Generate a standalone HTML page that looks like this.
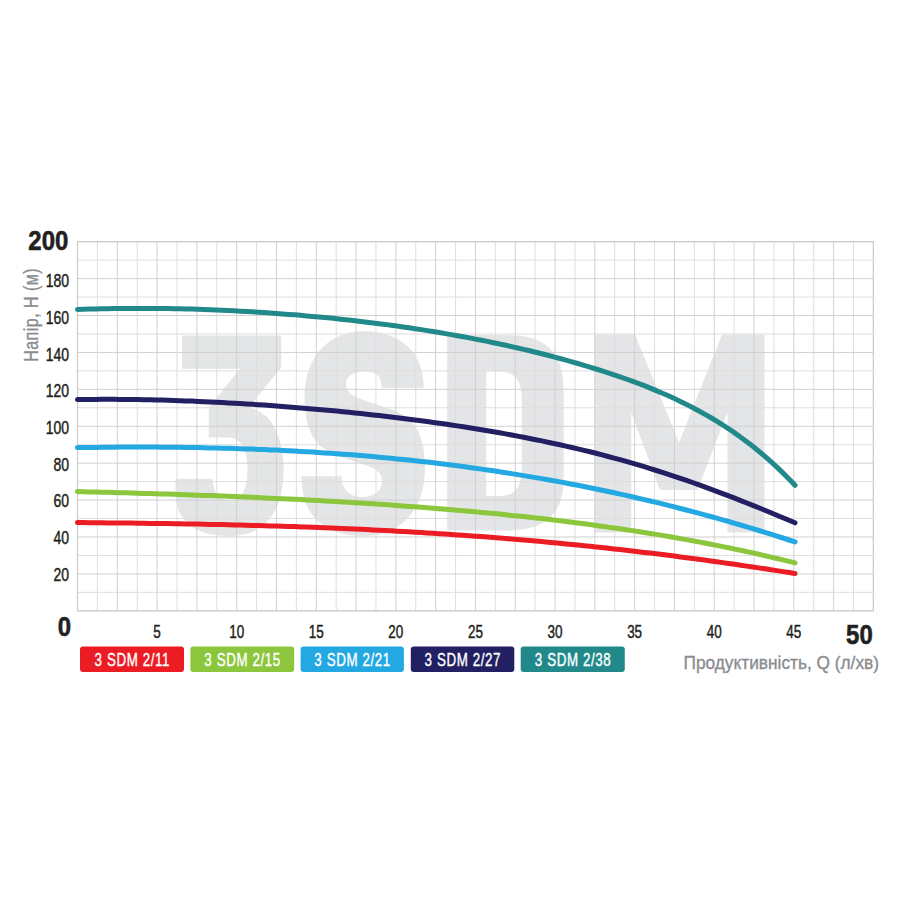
<!DOCTYPE html>
<html><head><meta charset="utf-8"><style>
html,body{margin:0;padding:0;background:#fff;width:900px;height:900px;overflow:hidden}
svg{display:block}
</style></head><body>
<svg width="900" height="900" viewBox="0 0 900 900">
<rect width="900" height="900" fill="#ffffff"/>
<g fill="#e4e5e7">
<path d="M182,335.5 L281.25,335.5 L281.25,367.5 L248.75,407.5 Q282.5,415 283.75,470 Q282.5,535 228.75,536.25 Q177.5,535 175.5,495 L175.5,478.75 L212.5,478.75 Q213.75,500 229.5,500.5 Q247.5,500 247.5,470 Q247.5,437.5 227.5,437.5 L208.75,437.5 L208.75,407.5 L240,368.75 L182,368.75 Z"/>
<path d="M423.7,387.7 L381.8,387.7 C381.8,375 375,371.6 364,371.6 C352,371.6 346,377 346,384 C346,393 354,397 366,401 L390,409 C415,417 425,435 425,468 C425,510 400,536 364,536 C323,536 301.5,515 301.5,476.3 L341.6,476.3 C341.6,490 350,497 362,497 C375,497 382,490 382,481 C382,472 375,468 362,464 L338,456 C315,448 304.5,430 304.5,398 C304.5,355 330,331.3 364,331.3 C400,331.3 423.7,352 423.7,387.7 Z"/>
<path fill-rule="evenodd" d="M447.2,335 L506,335 C546,335 563.6,352 563.6,390 L563.6,478 C563.6,514 546,530.5 506,530.5 L447.2,530.5 Z M486.3,371.5 L499,371.5 C515,371.5 521.8,381 521.8,400 L521.8,468 C521.8,487 515,496.1 499,496.1 L486.3,496.1 Z"/>
<path d="M594.5,334.5 L635,334.5 L679,442.5 L722,334.5 L764.5,334.5 L764.5,532.5 L727.5,532.5 L727.5,412.5 L697.5,490 L660,490 L631.25,412.5 L631.25,532.5 L594.5,532.5 Z"/>
</g>
<path d="M97.40 241.70V610.80M137.19 241.70V610.80M176.99 241.70V610.80M216.78 241.70V610.80M256.58 241.70V610.80M296.37 241.70V610.80M336.17 241.70V610.80M375.96 241.70V610.80M415.76 241.70V610.80M455.55 241.70V610.80M495.35 241.70V610.80M535.14 241.70V610.80M574.94 241.70V610.80M614.73 241.70V610.80M654.53 241.70V610.80M694.32 241.70V610.80M734.12 241.70V610.80M773.91 241.70V610.80M813.71 241.70V610.80M853.50 241.70V610.80M77.50 260.15H873.40M77.50 297.06H873.40M77.50 333.97H873.40M77.50 370.88H873.40M77.50 407.79H873.40M77.50 444.70H873.40M77.50 481.61H873.40M77.50 518.52H873.40M77.50 555.43H873.40M77.50 592.35H873.40" stroke="#dedede" stroke-width="1" fill="none"/>
<path d="M77.50 241.70V610.80M117.30 241.70V610.80M157.09 241.70V610.80M196.88 241.70V610.80M236.68 241.70V610.80M276.48 241.70V610.80M316.27 241.70V610.80M356.06 241.70V610.80M395.86 241.70V610.80M435.66 241.70V610.80M475.45 241.70V610.80M515.25 241.70V610.80M555.04 241.70V610.80M594.84 241.70V610.80M634.63 241.70V610.80M674.43 241.70V610.80M714.22 241.70V610.80M754.01 241.70V610.80M793.81 241.70V610.80M833.61 241.70V610.80M873.40 241.70V610.80M77.50 241.70H873.40M77.50 278.61H873.40M77.50 315.52H873.40M77.50 352.43H873.40M77.50 389.34H873.40M77.50 426.25H873.40M77.50 463.16H873.40M77.50 500.07H873.40M77.50 536.98H873.40M77.50 573.89H873.40M77.50 610.80H873.40" stroke="#d0d0d0" stroke-width="1" fill="none"/>
<rect x="77.5" y="241.7" width="795.90" height="369.10" stroke="#cdcdcd" stroke-width="1.2" fill="none"/>
<polyline points="77.5,522.6 83.5,522.6 89.6,522.7 95.6,522.8 101.6,522.8 107.6,522.9 113.7,522.9 119.7,523.0 125.7,523.1 131.8,523.1 137.8,523.2 143.8,523.3 149.9,523.4 155.9,523.4 161.9,523.5 167.9,523.6 174.0,523.7 180.0,523.8 186.0,523.9 192.1,524.0 198.1,524.1 204.1,524.3 210.1,524.4 216.2,524.5 222.2,524.6 228.2,524.8 234.3,524.9 240.3,525.1 246.3,525.2 252.4,525.4 258.4,525.5 264.4,525.7 270.4,525.9 276.5,526.1 282.5,526.2 288.5,526.4 294.6,526.6 300.6,526.9 306.6,527.1 312.6,527.3 318.7,527.5 324.7,527.8 330.7,528.0 336.8,528.2 342.8,528.5 348.8,528.8 354.9,529.0 360.9,529.3 366.9,529.6 372.9,529.9 379.0,530.2 385.0,530.5 391.0,530.8 397.1,531.2 403.1,531.5 409.1,531.8 415.1,532.2 421.2,532.6 427.2,532.9 433.2,533.3 439.3,533.7 445.3,534.1 451.3,534.5 457.4,534.9 463.4,535.3 469.4,535.7 475.4,536.2 481.5,536.6 487.5,537.1 493.5,537.6 499.6,538.0 505.6,538.5 511.6,539.0 517.6,539.5 523.7,540.0 529.7,540.6 535.7,541.1 541.8,541.6 547.8,542.2 553.8,542.8 559.9,543.3 565.9,543.9 571.9,544.5 577.9,545.1 584.0,545.7 590.0,546.3 596.0,547.0 602.1,547.6 608.1,548.3 614.1,548.9 620.1,549.6 626.2,550.3 632.2,551.0 638.2,551.7 644.3,552.4 650.3,553.1 656.3,553.8 662.4,554.6 668.4,555.3 674.4,556.1 680.4,556.9 686.5,557.7 692.5,558.4 698.5,559.3 704.6,560.1 710.6,560.9 716.6,561.7 722.6,562.6 728.7,563.4 734.7,564.3 740.7,565.2 746.8,566.1 752.8,567.0 758.8,567.9 764.9,568.8 770.9,569.7 776.9,570.6 782.9,571.6 789.0,572.5 795.0,573.5" fill="none" stroke="#ec1c24" stroke-width="5" stroke-linecap="round" stroke-linejoin="round"/>
<polyline points="77.5,491.6 83.5,491.7 89.6,491.9 95.6,492.0 101.6,492.2 107.6,492.3 113.7,492.5 119.7,492.7 125.7,492.8 131.8,493.0 137.8,493.2 143.8,493.4 149.9,493.5 155.9,493.7 161.9,493.9 167.9,494.1 174.0,494.3 180.0,494.5 186.0,494.7 192.1,494.9 198.1,495.2 204.1,495.4 210.1,495.6 216.2,495.8 222.2,496.1 228.2,496.3 234.3,496.6 240.3,496.8 246.3,497.1 252.4,497.3 258.4,497.6 264.4,497.9 270.4,498.2 276.5,498.4 282.5,498.7 288.5,499.0 294.6,499.3 300.6,499.6 306.6,499.9 312.6,500.3 318.7,500.6 324.7,500.9 330.7,501.3 336.8,501.6 342.8,502.0 348.8,502.3 354.9,502.7 360.9,503.1 366.9,503.4 372.9,503.8 379.0,504.2 385.0,504.6 391.0,505.1 397.1,505.5 403.1,505.9 409.1,506.4 415.1,506.8 421.2,507.3 427.2,507.7 433.2,508.2 439.3,508.7 445.3,509.2 451.3,509.7 457.4,510.2 463.4,510.7 469.4,511.3 475.4,511.8 481.5,512.4 487.5,513.0 493.5,513.5 499.6,514.1 505.6,514.7 511.6,515.4 517.6,516.0 523.7,516.6 529.7,517.3 535.7,517.9 541.8,518.6 547.8,519.3 553.8,520.0 559.9,520.8 565.9,521.5 571.9,522.2 577.9,523.0 584.0,523.8 590.0,524.6 596.0,525.4 602.1,526.2 608.1,527.1 614.1,527.9 620.1,528.8 626.2,529.7 632.2,530.6 638.2,531.5 644.3,532.5 650.3,533.5 656.3,534.4 662.4,535.4 668.4,536.5 674.4,537.5 680.4,538.6 686.5,539.6 692.5,540.7 698.5,541.9 704.6,543.0 710.6,544.2 716.6,545.4 722.6,546.6 728.7,547.8 734.7,549.1 740.7,550.3 746.8,551.6 752.8,552.9 758.8,554.3 764.9,555.7 770.9,557.1 776.9,558.5 782.9,559.9 789.0,561.4 795.0,562.9" fill="none" stroke="#8bc63c" stroke-width="5" stroke-linecap="round" stroke-linejoin="round"/>
<polyline points="77.5,447.6 83.5,447.5 89.6,447.4 95.6,447.4 101.6,447.3 107.6,447.2 113.7,447.2 119.7,447.1 125.7,447.1 131.8,447.1 137.8,447.1 143.8,447.1 149.9,447.1 155.9,447.1 161.9,447.2 167.9,447.2 174.0,447.3 180.0,447.3 186.0,447.4 192.1,447.5 198.1,447.6 204.1,447.7 210.1,447.9 216.2,448.0 222.2,448.2 228.2,448.3 234.3,448.5 240.3,448.7 246.3,448.9 252.4,449.1 258.4,449.4 264.4,449.6 270.4,449.9 276.5,450.1 282.5,450.4 288.5,450.7 294.6,451.1 300.6,451.4 306.6,451.7 312.6,452.1 318.7,452.5 324.7,452.9 330.7,453.3 336.8,453.7 342.8,454.2 348.8,454.6 354.9,455.1 360.9,455.6 366.9,456.1 372.9,456.6 379.0,457.2 385.0,457.7 391.0,458.3 397.1,458.9 403.1,459.5 409.1,460.1 415.1,460.8 421.2,461.4 427.2,462.1 433.2,462.8 439.3,463.5 445.3,464.3 451.3,465.0 457.4,465.8 463.4,466.6 469.4,467.4 475.4,468.2 481.5,469.1 487.5,470.0 493.5,470.8 499.6,471.7 505.6,472.7 511.6,473.6 517.6,474.6 523.7,475.6 529.7,476.6 535.7,477.6 541.8,478.6 547.8,479.7 553.8,480.8 559.9,481.9 565.9,483.0 571.9,484.2 577.9,485.3 584.0,486.5 590.0,487.7 596.0,489.0 602.1,490.2 608.1,491.5 614.1,492.8 620.1,494.1 626.2,495.4 632.2,496.8 638.2,498.2 644.3,499.6 650.3,501.0 656.3,502.4 662.4,503.9 668.4,505.4 674.4,506.9 680.4,508.5 686.5,510.0 692.5,511.6 698.5,513.2 704.6,514.8 710.6,516.5 716.6,518.1 722.6,519.8 728.7,521.5 734.7,523.3 740.7,525.0 746.8,526.8 752.8,528.6 758.8,530.5 764.9,532.3 770.9,534.2 776.9,536.1 782.9,538.0 789.0,540.0 795.0,541.9" fill="none" stroke="#24a8e2" stroke-width="5" stroke-linecap="round" stroke-linejoin="round"/>
<polyline points="77.5,399.6 83.5,399.5 89.6,399.4 95.6,399.4 101.6,399.3 107.6,399.3 113.7,399.3 119.7,399.4 125.7,399.4 131.8,399.5 137.8,399.6 143.8,399.7 149.9,399.8 155.9,399.9 161.9,400.1 167.9,400.3 174.0,400.5 180.0,400.7 186.0,400.9 192.1,401.1 198.1,401.4 204.1,401.7 210.1,401.9 216.2,402.2 222.2,402.6 228.2,402.9 234.3,403.2 240.3,403.6 246.3,403.9 252.4,404.3 258.4,404.7 264.4,405.1 270.4,405.6 276.5,406.0 282.5,406.5 288.5,406.9 294.6,407.4 300.6,407.9 306.6,408.4 312.6,408.9 318.7,409.5 324.7,410.0 330.7,410.6 336.8,411.1 342.8,411.7 348.8,412.3 354.9,413.0 360.9,413.6 366.9,414.2 372.9,414.9 379.0,415.6 385.0,416.3 391.0,417.0 397.1,417.7 403.1,418.5 409.1,419.2 415.1,420.0 421.2,420.8 427.2,421.6 433.2,422.4 439.3,423.3 445.3,424.1 451.3,425.0 457.4,425.9 463.4,426.8 469.4,427.8 475.4,428.8 481.5,429.7 487.5,430.7 493.5,431.8 499.6,432.8 505.6,433.9 511.6,435.0 517.6,436.1 523.7,437.3 529.7,438.5 535.7,439.7 541.8,440.9 547.8,442.2 553.8,443.5 559.9,444.8 565.9,446.1 571.9,447.5 577.9,448.9 584.0,450.4 590.0,451.8 596.0,453.3 602.1,454.9 608.1,456.5 614.1,458.1 620.1,459.7 626.2,461.4 632.2,463.2 638.2,464.9 644.3,466.7 650.3,468.6 656.3,470.5 662.4,472.4 668.4,474.3 674.4,476.3 680.4,478.4 686.5,480.4 692.5,482.5 698.5,484.7 704.6,486.9 710.6,489.1 716.6,491.3 722.6,493.6 728.7,495.9 734.7,498.2 740.7,500.6 746.8,503.0 752.8,505.4 758.8,507.8 764.9,510.3 770.9,512.8 776.9,515.2 782.9,517.7 789.0,520.3 795.0,522.8" fill="none" stroke="#221f62" stroke-width="5" stroke-linecap="round" stroke-linejoin="round"/>
<polyline points="77.5,309.5 83.5,309.3 89.6,309.1 95.6,308.9 101.6,308.8 107.6,308.7 113.7,308.6 119.7,308.5 125.7,308.4 131.8,308.4 137.8,308.4 143.8,308.4 149.9,308.4 155.9,308.4 161.9,308.5 167.9,308.6 174.0,308.7 180.0,308.8 186.0,309.0 192.1,309.1 198.1,309.3 204.1,309.5 210.1,309.8 216.2,310.0 222.2,310.3 228.2,310.5 234.3,310.8 240.3,311.2 246.3,311.5 252.4,311.8 258.4,312.2 264.4,312.6 270.4,313.0 276.5,313.4 282.5,313.9 288.5,314.4 294.6,314.8 300.6,315.3 306.6,315.9 312.6,316.4 318.7,317.0 324.7,317.5 330.7,318.1 336.8,318.8 342.8,319.4 348.8,320.1 354.9,320.7 360.9,321.4 366.9,322.2 372.9,322.9 379.0,323.7 385.0,324.4 391.0,325.3 397.1,326.1 403.1,326.9 409.1,327.8 415.1,328.7 421.2,329.6 427.2,330.6 433.2,331.5 439.3,332.5 445.3,333.6 451.3,334.6 457.4,335.7 463.4,336.8 469.4,337.9 475.4,339.1 481.5,340.2 487.5,341.4 493.5,342.7 499.6,344.0 505.6,345.3 511.6,346.6 517.6,348.0 523.7,349.4 529.7,350.8 535.7,352.3 541.8,353.8 547.8,355.3 553.8,356.9 559.9,358.5 565.9,360.1 571.9,361.8 577.9,363.5 584.0,365.3 590.0,367.1 596.0,369.0 602.1,370.9 608.1,372.8 614.1,374.8 620.1,376.9 626.2,379.0 632.2,381.2 638.2,383.4 644.3,385.7 650.3,388.1 656.3,390.6 662.4,393.2 668.4,395.8 674.4,398.6 680.4,401.5 686.5,404.4 692.5,407.5 698.5,410.7 704.6,414.1 710.6,417.5 716.6,421.1 722.6,424.9 728.7,428.8 734.7,432.9 740.7,437.2 746.8,441.7 752.8,446.3 758.8,451.2 764.9,456.3 770.9,461.6 776.9,467.1 782.9,472.9 789.0,479.0 795.0,485.3" fill="none" stroke="#22898b" stroke-width="5" stroke-linecap="round" stroke-linejoin="round"/>

<text font-family="'Liberation Sans', sans-serif" font-size="17.5" fill="#231f20" stroke="#231f20" stroke-width="0.45" text-anchor="end" transform="translate(69.1,580.80) scale(0.80,1)">20</text><text font-family="'Liberation Sans', sans-serif" font-size="17.5" fill="#231f20" stroke="#231f20" stroke-width="0.45" text-anchor="end" transform="translate(69.1,544.10) scale(0.80,1)">40</text><text font-family="'Liberation Sans', sans-serif" font-size="17.5" fill="#231f20" stroke="#231f20" stroke-width="0.45" text-anchor="end" transform="translate(69.1,507.40) scale(0.80,1)">60</text><text font-family="'Liberation Sans', sans-serif" font-size="17.5" fill="#231f20" stroke="#231f20" stroke-width="0.45" text-anchor="end" transform="translate(69.1,470.70) scale(0.80,1)">80</text><text font-family="'Liberation Sans', sans-serif" font-size="17.5" fill="#231f20" stroke="#231f20" stroke-width="0.45" text-anchor="end" transform="translate(69.1,434.00) scale(0.80,1)">100</text><text font-family="'Liberation Sans', sans-serif" font-size="17.5" fill="#231f20" stroke="#231f20" stroke-width="0.45" text-anchor="end" transform="translate(69.1,397.30) scale(0.80,1)">120</text><text font-family="'Liberation Sans', sans-serif" font-size="17.5" fill="#231f20" stroke="#231f20" stroke-width="0.45" text-anchor="end" transform="translate(69.1,360.60) scale(0.80,1)">140</text><text font-family="'Liberation Sans', sans-serif" font-size="17.5" fill="#231f20" stroke="#231f20" stroke-width="0.45" text-anchor="end" transform="translate(69.1,323.90) scale(0.80,1)">160</text><text font-family="'Liberation Sans', sans-serif" font-size="17.5" fill="#231f20" stroke="#231f20" stroke-width="0.45" text-anchor="end" transform="translate(69.1,287.20) scale(0.80,1)">180</text><text font-family="'Liberation Sans', sans-serif" font-weight="bold" font-size="27.2" fill="#231f20" stroke="#231f20" stroke-width="0.6" text-anchor="end" transform="translate(68.3,250.2) scale(0.88,1)">200</text><text font-family="'Liberation Sans', sans-serif" font-size="17.5" fill="#231f20" stroke="#231f20" stroke-width="0.45" text-anchor="middle" transform="translate(157.09,637.6) scale(0.77,1)">5</text><text font-family="'Liberation Sans', sans-serif" font-size="17.5" fill="#231f20" stroke="#231f20" stroke-width="0.45" text-anchor="middle" transform="translate(236.68,637.6) scale(0.77,1)">10</text><text font-family="'Liberation Sans', sans-serif" font-size="17.5" fill="#231f20" stroke="#231f20" stroke-width="0.45" text-anchor="middle" transform="translate(316.27,637.6) scale(0.77,1)">15</text><text font-family="'Liberation Sans', sans-serif" font-size="17.5" fill="#231f20" stroke="#231f20" stroke-width="0.45" text-anchor="middle" transform="translate(395.86,637.6) scale(0.77,1)">20</text><text font-family="'Liberation Sans', sans-serif" font-size="17.5" fill="#231f20" stroke="#231f20" stroke-width="0.45" text-anchor="middle" transform="translate(475.45,637.6) scale(0.77,1)">25</text><text font-family="'Liberation Sans', sans-serif" font-size="17.5" fill="#231f20" stroke="#231f20" stroke-width="0.45" text-anchor="middle" transform="translate(555.04,637.6) scale(0.77,1)">30</text><text font-family="'Liberation Sans', sans-serif" font-size="17.5" fill="#231f20" stroke="#231f20" stroke-width="0.45" text-anchor="middle" transform="translate(634.63,637.6) scale(0.77,1)">35</text><text font-family="'Liberation Sans', sans-serif" font-size="17.5" fill="#231f20" stroke="#231f20" stroke-width="0.45" text-anchor="middle" transform="translate(714.22,637.6) scale(0.77,1)">40</text><text font-family="'Liberation Sans', sans-serif" font-size="17.5" fill="#231f20" stroke="#231f20" stroke-width="0.45" text-anchor="middle" transform="translate(793.81,637.6) scale(0.77,1)">45</text><text font-family="'Liberation Sans', sans-serif" font-weight="bold" font-size="27.2" fill="#231f20" stroke="#231f20" stroke-width="0.6" text-anchor="middle" transform="translate(64.5,636.3) scale(0.88,1)">0</text><text font-family="'Liberation Sans', sans-serif" font-weight="bold" font-size="27.2" fill="#231f20" stroke="#231f20" stroke-width="0.6" text-anchor="middle" transform="translate(859.4,644.2) scale(0.88,1)">50</text><text font-family="'Liberation Sans', sans-serif" font-size="20" letter-spacing="0.6" fill="#8a8c90" text-anchor="middle" stroke="#8a8c90" stroke-width="0.35" transform="translate(38.3,314.9) rotate(-90) scale(0.8,1)">Напір, H (м)</text><text font-family="'Liberation Sans', sans-serif" font-size="18.8" fill="#8a8c90" stroke="#8a8c90" stroke-width="0.35" text-anchor="end" transform="translate(879,668.8) scale(0.92,1)">Продуктивність, Q (л/хв)</text><rect x="80" y="646.5" width="104.0" height="25.5" rx="3" fill="#ec1c24"/><text font-family="'Liberation Sans', sans-serif" font-size="18.8" letter-spacing="0.85" fill="#ffffff" stroke="#ffffff" stroke-width="0.4" text-anchor="middle" transform="translate(132.30,665.5) scale(0.71,1)">3 SDM 2/11</text><rect x="190.4" y="646.5" width="103.8" height="25.5" rx="3" fill="#8bc63c"/><text font-family="'Liberation Sans', sans-serif" font-size="18.8" letter-spacing="0.85" fill="#ffffff" stroke="#ffffff" stroke-width="0.4" text-anchor="middle" transform="translate(242.60,665.5) scale(0.71,1)">3 SDM 2/15</text><rect x="300.6" y="646.5" width="103.3" height="25.5" rx="3" fill="#24a8e2"/><text font-family="'Liberation Sans', sans-serif" font-size="18.8" letter-spacing="0.85" fill="#ffffff" stroke="#ffffff" stroke-width="0.4" text-anchor="middle" transform="translate(352.55,665.5) scale(0.71,1)">3 SDM 2/21</text><rect x="410.8" y="646.5" width="103.5" height="25.5" rx="3" fill="#221f62"/><text font-family="'Liberation Sans', sans-serif" font-size="18.8" letter-spacing="0.85" fill="#ffffff" stroke="#ffffff" stroke-width="0.4" text-anchor="middle" transform="translate(462.85,665.5) scale(0.71,1)">3 SDM 2/27</text><rect x="520.7" y="646.5" width="104.1" height="25.5" rx="3" fill="#22898b"/><text font-family="'Liberation Sans', sans-serif" font-size="18.8" letter-spacing="0.85" fill="#ffffff" stroke="#ffffff" stroke-width="0.4" text-anchor="middle" transform="translate(573.05,665.5) scale(0.71,1)">3 SDM 2/38</text>
</svg>
</body></html>
